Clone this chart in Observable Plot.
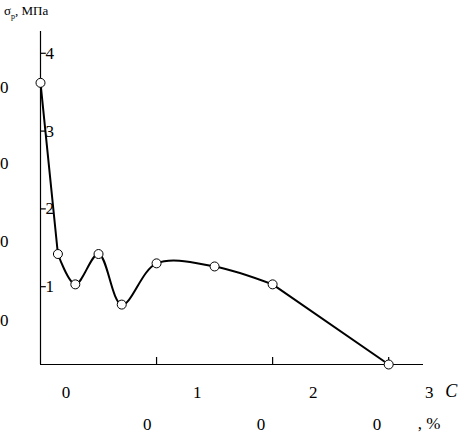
<!DOCTYPE html>
<html><head><meta charset="utf-8">
<script src="https://cdn.jsdelivr.net/npm/d3@7"></script>
<script src="https://cdn.jsdelivr.net/npm/@observablehq/plot@0.6"></script>
<style>body{margin:0;background:#fff}svg{display:block}</style>
</head><body><div id="chart"></div>
<script>
// Data
const concentration = [0, 0.015, 0.03, 0.05, 0.07, 0.10, 0.15, 0.20, 0.30];
const strength = [3.62, 1.42, 1.03, 1.42, 0.77, 1.30, 1.26, 1.03, 0];
const yTicks = [1, 2, 3, 4];
const xTicks = [0.1, 0.2, 0.3];
const leftLabels = ["0", "0", "0", "0"];
const leftLabelAt = [3.56, 2.58, 1.58, 0.57];
const bottomRow1 = ["0", "1", "2", "3"];
const bottomRow1At = [0.022, 0.135, 0.235, 0.335];
const bottomRow2 = ["0", "0", "0"];
const bottomRow2At = [0.092, 0.19, 0.29];

const data = concentration.map((c, i) => ({c, s: strength[i]}));
const n = data.length;
const font = "Liberation Serif, Times New Roman, serif";

const chart = Plot.plot({
  width: 468, height: 438,
  marginLeft: 40, marginRight: 45, marginTop: 31, marginBottom: 74,
  style: {fontFamily: font, fontSize: "17px", background: "#fff", color: "#000"},
  x: {domain: [0, 0.33], axis: null},
  y: {domain: [0, 4.28], axis: null},
  marks: [
    Plot.ruleX([0], {stroke: "#000", strokeWidth: 1.2}),
    Plot.ruleY([0], {stroke: "#000", strokeWidth: 1.2}),
    Plot.ruleY(yTicks, {y: d => d, x1: 0, x2: 0.005, stroke: "#000", strokeWidth: 1.2}),
    Plot.ruleX(xTicks, {x: d => d, y1: 0, y2: 0.09, stroke: "#000", strokeWidth: 1.2}),
    Plot.text(yTicks, {x: 0, y: d => d, text: d => String(d), textAnchor: "start", dx: 5, fontSize: 17}),
    Plot.text(leftLabels, {x: 0, y: (d, i) => leftLabelAt[i], text: d => d, textAnchor: "end", dx: -32, fontSize: 17}),
    Plot.text(bottomRow1, {x: (d, i) => bottomRow1At[i], frameAnchor: "bottom", text: d => d, dy: 33.5, fontSize: 17}),
    Plot.text(bottomRow2, {x: (d, i) => bottomRow2At[i], frameAnchor: "bottom", text: d => d, dy: 65.5, fontSize: 17}),
    Plot.text(["C"], {x: 0.354, frameAnchor: "bottom", text: d => d, dy: 32, fontStyle: "italic", fontSize: 18}),
    Plot.text([", %"], {x: 0.325, frameAnchor: "bottom", text: d => d, dy: 64, textAnchor: "start", fontSize: 17}),
    // steep first drop and the final descent are straight; the middle is smooth
    Plot.line(data.slice(0, 2), {x: "c", y: "s", stroke: "#000", strokeWidth: 2}),
    Plot.line(data.slice(1, n - 1), {x: "c", y: "s", curve: "catmull-rom", stroke: "#000", strokeWidth: 2}),
    Plot.line(data.slice(n - 2), {x: "c", y: "s", stroke: "#000", strokeWidth: 2}),
    Plot.dot(data, {x: "c", y: "s", r: 4.5, fill: "#fff", stroke: "#000", strokeWidth: 1})
  ]
});

// y-axis title with subscript
const svg = d3.select(chart);
const t = svg.append("text")
  .attr("x", 4).attr("y", 15).attr("text-anchor", "start")
  .attr("font-family", font).attr("font-size", 13).attr("fill", "#000");
t.append("tspan").text("σ");
t.append("tspan").attr("font-size", 8).attr("dy", 4).text("р");
t.append("tspan").attr("dy", -4).text(", МПа");

document.getElementById("chart").appendChild(chart);
</script>
</body></html>
